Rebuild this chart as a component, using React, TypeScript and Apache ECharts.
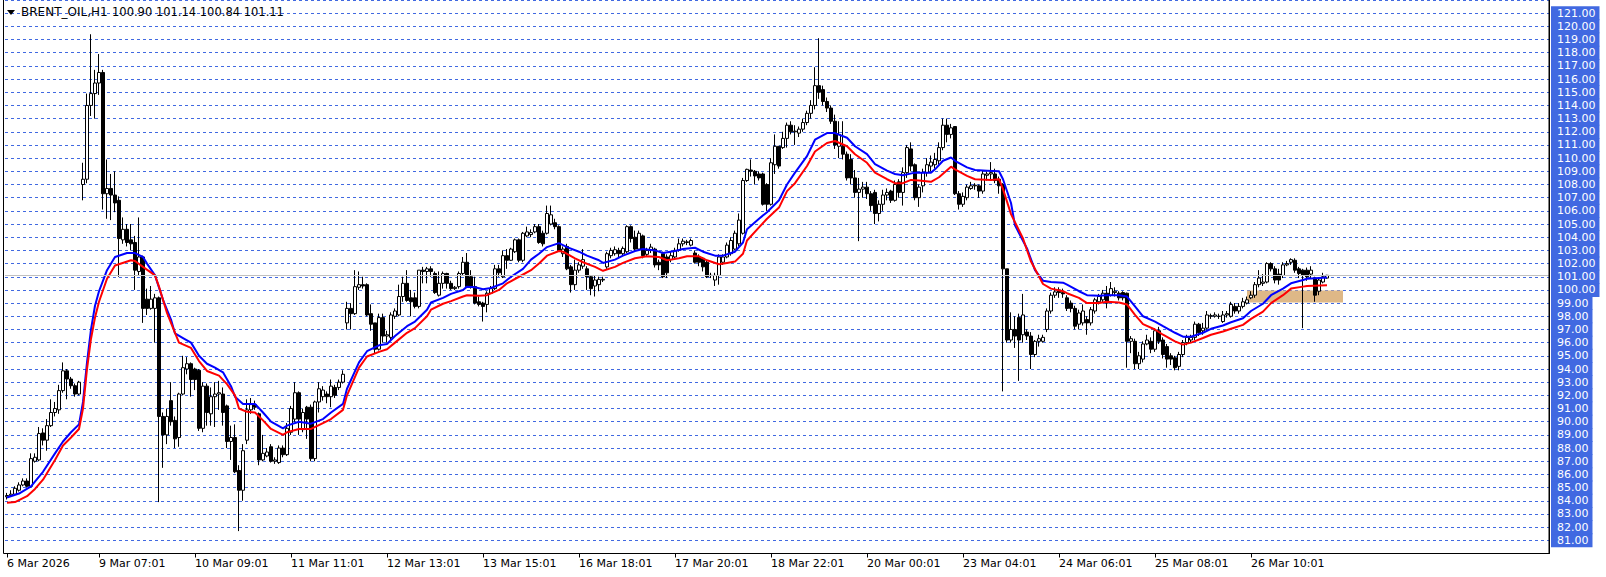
import React, { useEffect, useRef } from 'react';
import * as echarts from 'echarts';

const opens = [
  84.3, 84.4, 84.5, 84.8, 85.2, 85.5, 85.1, 87.0, 87.1, 89.15,
  88.6, 89.7, 90.7, 90.9, 92.36, 93.86, 93.24, 92.73, 92.1, 108.0,
  108.4, 114.0, 114.9, 115.7, 116.5, 107.3, 107.7, 107.2, 106.8, 103.8,
  104.6, 103.8, 103.6, 101.4, 102.5, 99.3, 98.6, 98.6, 99.4, 90.4,
  89.0, 91.6, 90.1, 88.8, 92.1, 94.0, 94.4, 94.0, 93.9, 89.5,
  92.7, 90.6, 91.9, 92.1, 92.1, 91.2, 88.5, 88.8, 86.3, 84.8,
  88.6, 90.9, 91.3, 90.6, 87.1, 87.4, 88.1, 87.0, 86.9, 88.0,
  87.5, 89.2, 90.2, 92.2, 89.4, 91.1, 91.1, 87.2, 91.5, 91.9,
  92.1, 91.9, 92.6, 92.6, 93.0, 97.5, 98.6, 98.2, 100.2, 100.4,
  100.4, 98.2, 97.5, 95.5, 97.9, 96.5, 96.4, 98.0, 98.1, 99.5,
  100.5, 99.4, 99.4, 98.75, 101.5, 101.4, 101.6, 101.25, 99.6, 100.5,
  101.25, 100.5, 100.1, 100.25, 101.25, 102.1, 101.0, 100.25, 99.1, 99.0,
  98.9, 99.75, 100.1, 101.6, 101.0, 102.6, 102.25, 102.9, 103.8, 102.25,
  104.1, 104.2, 104.4, 104.8, 104.3, 104.3, 105.0, 105.1, 104.8, 102.75,
  103.3, 101.75, 100.4, 101.5, 101.8, 101.6, 101.0, 100.3, 100.4, 100.75,
  101.75, 102.6, 102.75, 103.0, 102.75, 102.9, 104.8, 104.0, 103.1, 104.1,
  102.7, 103.0, 103.1, 102.1, 102.75, 102.5, 102.3, 102.5, 103.0, 103.5,
  103.6, 103.4, 102.8, 102.5, 102.4, 102.1, 101.1, 100.75, 101.1, 102.1,
  102.5, 102.75, 103.1, 103.5, 104.3, 108.3, 109.1, 109.0, 108.8, 108.8,
  108.0, 106.5, 109.5, 110.9, 110.8, 111.5, 112.5, 112.0, 111.9, 112.2,
  112.7, 113.4, 114.0, 115.5, 115.2, 114.3, 113.8, 112.8, 110.9, 110.9,
  110.3, 109.9, 108.5, 107.4, 107.65, 107.8, 107.3, 107.4, 105.8, 106.5,
  107.2, 107.5, 106.8, 108.2, 107.4, 108.9, 110.7, 109.5, 107.0, 107.9,
  108.9, 109.4, 109.5, 109.8, 110.8, 112.5, 111.8, 112.4, 107.3, 106.5,
  107.0, 107.7, 107.9, 107.9, 107.5, 108.7, 108.8, 108.8, 108.4, 108.0,
  101.6, 96.2, 97.0, 97.9, 96.6, 96.8, 96.5, 95.1, 96.1, 96.1,
  97.0, 98.4, 99.6, 100.0, 99.8, 99.4, 99.0, 98.6, 97.4, 97.5,
  97.75, 97.5, 98.4, 99.1, 99.25, 99.75, 99.6, 99.8, 99.75, 99.8,
  99.75, 96.1, 96.1, 94.4, 94.75, 95.9, 96.1, 95.5, 96.9, 96.2,
  95.7, 95.0, 94.85, 94.2, 95.1, 96.0, 96.2, 96.4, 97.4, 96.9,
  97.1, 98.0, 98.0, 98.0, 97.6, 98.1, 98.0, 98.75, 98.4, 98.75,
  99.0, 99.4, 99.6, 100.4, 100.5, 100.6, 102.0, 101.6, 101.2, 101.1,
  101.9, 102.1, 102.25, 101.6, 101.5, 101.5, 101.2, 100.9, 99.9, 100.6, 100.9,
];

const highs = [
  84.6, 84.8, 85.1, 85.4, 85.7, 85.7, 87.6, 87.6, 89.6, 89.5,
  90.2, 91.7, 91.5, 92.8, 94.5, 94.0, 93.4, 92.9, 93.1, 109.65,
  114.9, 119.4, 116.7, 117.9, 116.7, 109.9, 108.8, 109.0, 107.1, 105.5,
  105.0, 105.0, 104.1, 105.5, 102.6, 100.1, 100.3, 99.7, 99.5, 90.7,
  91.0, 93.0, 90.4, 92.2, 95.0, 94.9, 94.5, 94.1, 94.0, 93.0,
  92.9, 92.6, 93.0, 93.1, 92.6, 91.3, 89.7, 89.8, 86.7, 88.3,
  91.7, 91.8, 91.6, 90.7, 89.0, 88.0, 88.3, 87.3, 88.2, 88.2,
  89.9, 91.2, 93.0, 92.3, 91.0, 91.2, 91.3, 91.6, 93.0, 92.7,
  92.3, 93.2, 92.8, 93.2, 93.9, 99.1, 99.0, 101.5, 101.4, 101.0,
  100.5, 98.9, 97.5, 98.2, 98.2, 96.9, 98.3, 98.6, 100.4, 101.0,
  101.5, 100.0, 99.8, 101.5, 101.75, 101.75, 101.8, 101.4, 101.4, 101.4,
  101.3, 100.7, 100.3, 101.4, 102.5, 102.8, 101.5, 101.0, 99.5, 99.1,
  99.9, 100.3, 101.9, 101.9, 103.0, 103.1, 103.2, 103.9, 103.9, 104.4,
  104.8, 104.6, 105.0, 105.0, 104.5, 106.4, 106.4, 105.4, 104.9, 103.3,
  103.5, 101.9, 102.3, 102.1, 103.1, 101.8, 101.1, 101.1, 101.0, 101.0,
  102.9, 103.2, 103.3, 103.2, 103.3, 104.9, 104.9, 104.5, 104.5, 104.2,
  103.2, 103.5, 103.2, 102.3, 102.9, 102.7, 102.9, 103.2, 103.9, 103.9,
  103.8, 103.9, 103.0, 102.7, 102.5, 102.2, 101.3, 101.3, 102.7, 102.7,
  103.6, 104.0, 104.5, 105.8, 108.5, 109.2, 109.9, 109.1, 109.0, 108.9,
  108.1, 110.0, 111.8, 110.9, 112.0, 112.7, 112.8, 112.5, 112.4, 113.0,
  113.6, 114.4, 116.9, 119.1, 115.5, 114.6, 114.0, 113.3, 112.8, 112.8,
  110.5, 110.3, 109.1, 108.5, 108.2, 108.2, 107.5, 107.6, 106.8, 107.6,
  107.7, 107.6, 108.3, 108.4, 109.3, 111.0, 111.2, 109.6, 108.0, 109.2,
  110.0, 110.2, 110.4, 111.2, 113.0, 113.0, 112.6, 112.4, 107.5, 107.4,
  108.0, 108.2, 108.1, 108.0, 109.1, 109.0, 109.7, 109.2, 108.6, 108.1,
  101.6, 98.3, 98.0, 98.2, 99.7, 97.0, 96.8, 96.2, 96.6, 96.6,
  98.6, 99.8, 100.2, 100.2, 100.1, 99.6, 99.2, 98.8, 98.5, 98.9,
  98.0, 98.7, 99.4, 99.7, 100.0, 100.3, 100.6, 100.2, 99.9, 99.9,
  99.8, 96.5, 96.3, 95.3, 96.1, 96.6, 96.4, 97.1, 97.2, 96.4,
  95.9, 95.2, 95.0, 95.3, 96.2, 96.6, 96.6, 97.6, 97.5, 97.5,
  98.4, 98.2, 98.3, 98.2, 98.4, 98.4, 99.1, 99.0, 99.0, 99.4,
  99.5, 99.9, 100.6, 101.5, 101.2, 102.1, 102.1, 101.8, 101.6, 102.1,
  102.2, 102.4, 102.4, 101.75, 101.6, 101.7, 101.8, 101.0, 100.9, 101.3, 101.14,
];

const lows = [
  84.1, 84.3, 84.4, 84.7, 85.1, 85.0, 85.0, 86.9, 87.0, 88.2,
  87.8, 89.6, 90.4, 90.6, 92.2, 91.7, 92.5, 91.9, 92.0, 106.8,
  108.1, 113.2, 113.0, 114.8, 106.1, 105.4, 105.3, 105.9, 101.0, 103.5,
  103.3, 103.0, 100.0, 101.1, 97.5, 98.1, 98.5, 96.0, 83.9, 86.5,
  88.3, 89.7, 88.0, 88.1, 92.0, 93.6, 91.9, 92.4, 89.3, 89.2,
  89.7, 89.7, 89.6, 90.9, 89.7, 88.0, 87.1, 86.1, 81.7, 84.0,
  88.3, 90.6, 90.9, 86.7, 87.0, 87.3, 86.9, 86.8, 86.8, 87.3,
  87.4, 89.0, 90.0, 89.0, 89.2, 88.7, 87.0, 87.0, 90.7, 91.6,
  91.4, 91.1, 91.8, 92.4, 92.9, 97.0, 97.0, 98.1, 100.0, 100.1,
  98.0, 96.9, 95.2, 95.4, 96.0, 96.0, 96.2, 97.8, 98.0, 99.1,
  99.1, 98.0, 98.6, 98.6, 100.5, 100.5, 101.0, 99.7, 99.5, 100.1,
  100.1, 100.0, 100.0, 100.1, 101.1, 100.2, 100.1, 98.9, 98.75, 97.6,
  98.3, 99.7, 100.0, 101.0, 100.9, 101.6, 102.2, 102.8, 102.1, 102.1,
  104.0, 104.0, 104.3, 103.5, 103.3, 104.2, 104.9, 104.6, 102.9, 102.5,
  101.5, 99.8, 100.0, 101.3, 101.6, 100.0, 99.6, 99.5, 99.9, 100.6,
  101.6, 102.4, 102.6, 102.5, 102.6, 102.8, 103.6, 102.9, 103.0, 102.4,
  102.5, 102.8, 101.7, 101.5, 100.9, 100.9, 102.1, 102.3, 102.9, 103.3,
  103.4, 103.3, 102.0, 101.8, 101.4, 100.9, 100.9, 100.3, 100.4, 101.9,
  102.4, 102.6, 103.0, 103.3, 104.2, 108.2, 108.6, 108.0, 108.3, 106.4,
  106.0, 106.4, 108.8, 109.2, 110.7, 110.8, 111.8, 111.0, 111.6, 112.0,
  112.5, 113.0, 113.7, 114.5, 114.0, 113.5, 112.6, 110.7, 110.0, 109.9,
  108.3, 108.0, 107.0, 103.7, 107.0, 106.9, 106.0, 105.0, 105.2, 106.0,
  106.8, 106.6, 106.7, 107.0, 106.4, 108.5, 109.0, 106.8, 106.3, 107.4,
  108.6, 109.0, 109.2, 109.5, 110.6, 111.2, 111.5, 107.2, 106.1, 106.3,
  106.8, 107.6, 107.6, 107.0, 107.3, 108.3, 108.4, 108.1, 107.3, 92.3,
  96.0, 96.0, 95.6, 93.1, 96.0, 96.2, 94.0, 94.9, 95.7, 96.0,
  96.8, 98.2, 99.4, 99.4, 99.4, 98.4, 98.3, 97.0, 97.0, 97.3,
  96.6, 97.3, 98.2, 98.9, 99.0, 98.6, 99.5, 99.5, 99.2, 99.2,
  94.1, 95.2, 94.0, 94.0, 94.5, 95.8, 95.2, 95.3, 95.9, 94.8,
  94.1, 94.3, 93.9, 93.9, 94.9, 95.8, 96.0, 96.2, 96.5, 96.6,
  97.0, 97.8, 97.9, 97.8, 97.5, 97.9, 97.9, 98.2, 98.2, 98.6,
  98.9, 99.3, 99.4, 100.2, 100.3, 100.5, 101.4, 100.5, 100.4, 100.9,
  101.8, 101.9, 101.3, 100.9, 97.1, 100.7, 100.9, 99.1, 99.6, 100.5, 100.84,
];

const closes = [
  84.4, 84.5, 84.95, 85.2, 85.5, 85.1, 87.2, 87.3, 89.1, 88.6,
  89.7, 90.7, 91.0, 92.36, 93.86, 93.24, 92.73, 92.1, 93.0, 108.4,
  114.0, 114.9, 115.7, 116.5, 107.3, 107.7, 107.2, 106.6, 103.9, 104.6,
  103.6, 103.5, 101.5, 102.5, 98.6, 98.6, 99.3, 99.4, 90.4, 89.0,
  90.4, 90.0, 88.7, 92.1, 94.1, 94.4, 93.2, 93.2, 89.5, 92.7,
  90.7, 91.9, 92.1, 92.2, 90.7, 88.5, 88.8, 86.2, 84.8, 87.8,
  90.9, 91.3, 91.1, 87.1, 87.6, 87.7, 87.0, 87.1, 88.0, 87.5,
  89.5, 91.0, 92.2, 90.2, 90.7, 90.2, 87.2, 91.5, 92.5, 92.4,
  91.9, 92.7, 92.0, 93.0, 93.6, 98.6, 98.2, 100.25, 100.4, 100.3,
  98.1, 97.4, 95.5, 97.9, 96.5, 96.6, 98.1, 98.4, 99.5, 100.5,
  99.2, 99.1, 98.75, 101.5, 101.4, 101.6, 101.4, 99.8, 100.5, 101.25,
  100.5, 100.1, 100.2, 101.25, 102.1, 100.25, 100.25, 99.0, 98.9, 98.75,
  99.75, 100.1, 101.6, 101.3, 102.6, 102.25, 103.1, 103.8, 102.25, 104.3,
  104.4, 104.35, 104.8, 103.6, 103.5, 105.8, 105.7, 104.8, 103.0, 103.1,
  101.6, 100.4, 101.5, 101.9, 102.3, 101.0, 100.1, 100.75, 100.8, 100.8,
  102.75, 103.0, 103.05, 102.75, 103.15, 104.8, 103.9, 103.1, 104.3, 102.6,
  103.0, 103.25, 101.9, 101.9, 101.0, 101.3, 102.6, 103.0, 103.5, 103.7,
  103.65, 103.75, 102.1, 102.1, 101.75, 101.0, 101.1, 101.1, 102.5, 102.5,
  103.4, 103.75, 104.3, 105.3, 108.3, 109.15, 109.0, 108.65, 108.5, 106.5,
  106.5, 109.65, 110.9, 109.4, 111.5, 112.5, 112.0, 112.05, 112.2, 112.7,
  113.4, 114.0, 115.5, 115.0, 114.3, 113.8, 112.8, 111.0, 111.8, 110.3,
  108.5, 108.5, 107.4, 107.65, 107.8, 107.3, 106.4, 105.8, 106.5, 107.2,
  107.4, 106.8, 108.0, 107.4, 108.9, 110.8, 109.4, 107.0, 107.8, 108.9,
  109.5, 109.7, 109.9, 110.8, 112.5, 111.8, 112.3, 107.3, 106.5, 107.1,
  107.8, 107.9, 107.95, 107.5, 108.8, 108.8, 108.9, 108.3, 107.9, 101.6,
  96.2, 97.0, 96.5, 96.2, 98.1, 96.5, 95.1, 96.1, 96.3, 96.4,
  98.4, 99.6, 99.85, 99.8, 99.7, 98.6, 98.6, 97.25, 98.25, 98.4,
  97.5, 98.5, 99.25, 99.5, 99.75, 99.0, 100.1, 99.9, 99.4, 99.4,
  96.1, 96.3, 94.4, 95.0, 95.9, 96.2, 95.5, 96.9, 96.1, 95.1,
  94.75, 94.75, 94.1, 95.1, 96.0, 96.4, 96.4, 97.4, 96.75, 97.1,
  98.1, 98.05, 98.1, 98.0, 98.1, 98.2, 98.9, 98.4, 98.75, 99.1,
  99.25, 99.6, 100.4, 100.9, 100.6, 102.0, 101.6, 100.75, 100.75, 101.9,
  102.0, 102.3, 101.5, 101.25, 101.1, 101.0, 101.5, 99.6, 100.75, 101.0, 101.11,
];

// moving averages: [bar index, price]
const blueMA = [
  [0, 84.25], [3, 84.55], [6, 85.1], [9, 86.2], [12, 87.6], [14, 88.5], [16, 89.2], [18, 89.8],
  [19, 91.5], [20, 94.5], [21, 97.0], [22, 98.8], [23, 99.9], [25, 101.5], [27, 102.5], [30, 102.8],
  [32, 102.8], [34, 102.5], [35, 102.0], [37, 101.1], [39, 99.25], [41, 97.75], [42, 96.7], [44, 96.35],
  [46, 96.0], [48, 95.0], [50, 94.4], [52, 94.1], [54, 93.75], [56, 92.7], [57, 91.9], [59, 91.35],
  [62, 91.35], [64, 90.7], [66, 90.0], [69, 89.5], [70, 89.7], [73, 90.0], [76, 89.85], [79, 90.2],
  [81, 90.7], [84, 91.35], [85, 92.5], [88, 94.5], [90, 95.35], [93, 95.8], [95, 95.9], [97, 96.5],
  [100, 97.25], [102, 97.6], [105, 98.5], [106, 99.05], [109, 99.4], [111, 99.7], [114, 100.0], [115, 100.25],
  [117, 100.2], [119, 100.05], [121, 100.15], [124, 100.5], [126, 101.0], [129, 101.6], [131, 102.3], [133, 102.75],
  [135, 103.25], [138, 103.55], [140, 103.25], [143, 102.9], [145, 102.6], [148, 102.25], [149, 102.05], [152, 102.3],
  [154, 102.6], [157, 102.95], [159, 103.1], [162, 103.0], [164, 102.8], [167, 102.95], [169, 103.1], [172, 103.2],
  [174, 102.9], [177, 102.6], [179, 102.6], [182, 102.9], [184, 103.6], [185, 104.6], [188, 105.4], [190, 105.9],
  [193, 106.8], [195, 108.0], [197, 108.9], [200, 110.15], [202, 111.4], [205, 111.9], [207, 111.9], [210, 111.55],
  [212, 110.9], [215, 110.3], [217, 109.55], [220, 109.05], [222, 108.8], [224, 108.7], [227, 108.9], [231, 108.9],
  [232, 109.15], [234, 109.8], [236, 110.05], [237, 109.8], [240, 109.3], [242, 109.1], [245, 109.05], [248, 109.0],
  [249, 108.4], [251, 106.6], [252, 104.9], [255, 103.15], [257, 101.5], [259, 100.7], [261, 100.6], [264, 100.55],
  [265, 100.4], [268, 99.9], [270, 99.6], [273, 99.55], [275, 99.6], [278, 99.6], [280, 99.5], [282, 98.75],
  [284, 98.0], [287, 97.6], [289, 97.25], [292, 96.75], [294, 96.45], [296, 96.45], [299, 96.75], [301, 97.05],
  [304, 97.3], [306, 97.55], [309, 97.85], [311, 98.4], [314, 98.95], [316, 99.6], [319, 100.1], [321, 100.5],
  [324, 100.75], [325, 100.85], [330, 100.95],
];

const redMA = [
  [0, 83.85], [2, 83.9], [5, 84.35], [7, 84.9], [9, 85.6], [12, 87.1], [14, 88.2], [16, 88.8], [18, 89.45],
  [19, 91.0], [20, 94.0], [21, 96.3], [22, 97.9], [23, 99.1], [25, 100.85], [27, 101.85], [31, 102.25],
  [32, 102.2], [34, 101.75], [37, 101.1], [38, 100.25], [40, 98.25], [42, 96.75], [43, 96.0], [46, 95.6],
  [48, 94.6], [50, 93.85], [53, 93.5], [55, 92.85], [57, 92.0], [58, 91.0], [60, 90.75], [62, 90.7],
  [64, 90.1], [66, 89.45], [69, 89.0], [70, 89.2], [73, 89.45], [76, 89.45], [79, 89.9], [81, 90.2],
  [84, 90.9], [85, 92.0], [88, 94.1], [90, 94.95], [93, 95.3], [95, 95.5], [97, 96.0], [100, 96.75],
  [102, 97.1], [105, 98.0], [106, 98.5], [109, 98.95], [111, 99.15], [114, 99.5], [115, 99.6], [118, 99.55],
  [120, 99.6], [123, 100.0], [125, 100.5], [128, 101.0], [131, 101.5], [133, 102.0], [135, 102.6], [138, 102.95],
  [139, 102.9], [142, 102.4], [144, 102.1], [147, 101.75], [149, 101.45], [152, 101.75], [154, 102.05], [157, 102.4],
  [160, 102.55], [163, 102.5], [165, 102.25], [168, 102.4], [170, 102.55], [173, 102.55], [175, 102.25], [178, 101.95],
  [180, 102.05], [182, 102.15], [184, 102.75], [185, 103.75], [188, 104.75], [190, 105.4], [193, 106.25], [195, 107.5],
  [197, 108.1], [200, 109.4], [202, 110.5], [205, 111.15], [207, 111.3], [210, 110.9], [212, 110.3], [215, 109.65],
  [217, 108.9], [220, 108.4], [222, 108.1], [224, 108.1], [226, 108.35], [228, 108.3], [231, 108.2], [233, 108.55],
  [236, 109.35], [237, 109.15], [240, 108.65], [242, 108.4], [246, 108.35], [248, 108.4], [249, 107.65], [251, 105.75],
  [254, 103.9], [256, 102.15], [259, 100.45], [261, 100.1], [264, 99.9], [265, 99.75], [268, 99.4], [270, 99.0],
  [273, 99.0], [275, 99.1], [278, 99.05], [280, 98.9], [282, 98.1], [284, 97.4], [287, 97.0], [289, 96.6],
  [292, 96.1], [294, 95.85], [296, 96.0], [299, 96.35], [301, 96.6], [304, 96.85], [306, 97.05], [309, 97.35],
  [311, 97.8], [314, 98.35], [316, 99.0], [319, 99.6], [321, 100.1], [324, 100.25], [325, 100.3], [330, 100.35],
];

const tickIndex = [0, 23, 47, 71, 95, 119, 143, 167, 191, 215, 239, 263, 287, 311];
const tickLabels = [
  '6 Mar 2026', '9 Mar 07:01', '10 Mar 09:01', '11 Mar 11:01', '12 Mar 13:01', '13 Mar 15:01',
  '16 Mar 18:01', '17 Mar 20:01', '18 Mar 22:01', '20 Mar 00:01', '23 Mar 04:01', '24 Mar 06:01',
  '25 Mar 08:01', '26 Mar 10:01',
];

const slotCount = 386;
const bidPrice = 101.11;
const zoneBars = [310, 334];
const zonePrices = [99.05, 99.95];
const symbolTitle = 'BRENT_OIL,H1';
const lastBarText = '100.90 101.14 100.84 101.11';

const FONT = 'DejaVu Sans';
const GRID_BLUE = '#4169E1';

export default function App() {
  const ref = useRef<HTMLDivElement>(null);

  useEffect(() => {
    document.body.style.margin = '0';
    if (!ref.current) return;
    const chart = echarts.init(ref.current, undefined, { renderer: 'svg' });

    const categories = Array.from({ length: slotCount }, (_, i) => String(i));
    const tickMap: Record<number, string> = {};
    tickIndex.forEach((t, k) => { tickMap[t] = tickLabels[k]; });
    const isTick = (i: number) => tickMap[i] !== undefined;

    const candles = opens.map((o, i) => [o, closes[i], lows[i], highs[i]]);

    const option: any = {
      animation: false,
      backgroundColor: '#ffffff',
      grid: { left: 5, right: 57, top: -3.8, bottom: 23.5, containLabel: false },
      xAxis: {
        type: 'category',
        data: categories,
        boundaryGap: true,
        axisLine: { show: true, lineStyle: { color: '#000000', width: 1 } },
        axisTick: {
          show: true, alignWithLabel: true, length: 4,
          interval: (i: number) => isTick(i),
          lineStyle: { color: '#000000' },
        },
        axisLabel: {
          interval: (i: number) => isTick(i),
          formatter: (_v: string, i: number) => tickMap[i] || '',
          align: 'left',
          margin: 4,
          color: '#000000',
          fontFamily: FONT,
          fontSize: 11,
        },
        splitLine: { show: false },
      },
      yAxis: {
        type: 'value',
        position: 'right',
        min: 80,
        max: 122,
        interval: 1,
        axisLine: { show: true, lineStyle: { color: '#000000', width: 1 } },
        axisTick: { show: false },
        splitLine: { show: true, lineStyle: { color: GRID_BLUE, type: [3, 3], width: 1 } },
        axisLabel: {
          showMinLabel: false,
          showMaxLabel: false,
          formatter: (v: number) => v.toFixed(2),
          color: '#ffffff',
          backgroundColor: GRID_BLUE,
          padding: [0, 4, 0, 6],
          lineHeight: 14,
          margin: 2,
          fontFamily: FONT,
          fontSize: 11,
        },
      },
      series: [
        {
          type: 'line',
          data: [],
          z: 1,
          silent: true,
          markArea: {
            silent: true,
            itemStyle: { color: '#DEB887', opacity: 1 },
            data: [[
              { xAxis: zoneBars[0], yAxis: zonePrices[0] },
              { xAxis: zoneBars[1], yAxis: zonePrices[1] },
            ]],
          },
        },
        {
          type: 'candlestick',
          data: candles,
          barWidth: 3,
          z: 2,
          itemStyle: {
            color: '#ffffff',
            color0: '#000000',
            borderColor: '#000000',
            borderColor0: '#000000',
            borderWidth: 1,
          },
          markLine: {
            silent: true,
            symbol: ['none', 'none'],
            label: { show: false },
            lineStyle: { color: '#C0C0C0', type: 'solid', width: 1 },
            data: [{ yAxis: bidPrice }],
          },
        },
        {
          type: 'line',
          data: blueMA,
          z: 3,
          showSymbol: false,
          symbol: 'none',
          lineStyle: { color: '#0000FF', width: 2 },
        },
        {
          type: 'line',
          data: redMA,
          z: 4,
          showSymbol: false,
          symbol: 'none',
          lineStyle: { color: '#FF0000', width: 2 },
        },
      ],
      graphic: [
        {
          type: 'rect',
          z: 100,
          silent: true,
          shape: { x: 3.5, y: -1, width: 1545.5, height: 554.5 },
          style: { fill: 'none', stroke: '#000000', lineWidth: 1 },
        },
        {
          type: 'polygon',
          z: 100,
          left: 7,
          top: 10,
          shape: { points: [[0, 0], [8, 0], [4, 5]] },
          style: { fill: '#000000' },
        },
        {
          type: 'text',
          z: 100,
          left: 21,
          top: 6,
          style: { text: symbolTitle, fill: '#000000', fontFamily: FONT, fontSize: 12 },
        },
        {
          type: 'text',
          z: 100,
          left: 112,
          top: 6,
          style: { text: lastBarText, fill: '#000000', fontFamily: FONT, fontSize: 11.5 },
        },
      ],
    };

    chart.setOption(option);
    return () => chart.dispose();
  }, []);

  return <div ref={ref} style={{ width: 1606, height: 577 }} />;
}
